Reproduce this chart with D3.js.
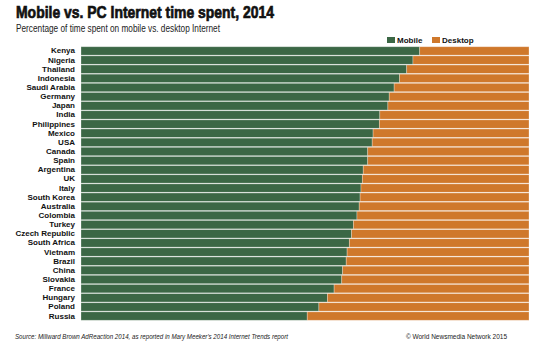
<!DOCTYPE html>
<html>
<head>
<meta charset="utf-8">
<script src="https://cdn.jsdelivr.net/npm/d3@7"></script>
<style>
  body { margin: 0; background: #fff; }
  svg { display: block; }
</style>
</head>
<body>
<div class="canvas"></div>
<script>
const countries = ["Kenya", "Nigeria", "Thailand", "Indonesia", "Saudi Arabia", "Germany",
  "Japan", "India", "Philippines", "Mexico", "USA", "Canada", "Spain", "Argentina", "UK",
  "Italy", "South Korea", "Australia", "Colombia", "Turkey", "Czech Republic", "South Africa",
  "Vietnam", "Brazil", "China", "Slovakia", "France", "Hungary", "Poland", "Russia"];
const mobile = [75.6, 74.1, 72.7, 71.1, 69.9, 68.8, 68.5, 66.7, 66.6, 65.2, 65.0, 64.0,
  64.0, 63.0, 62.8, 62.5, 62.3, 62.1, 61.6, 60.8, 60.4, 59.9, 59.4, 59.2, 58.4, 58.2,
  56.5, 55.0, 53.1, 50.5];
const desktop = mobile.map(d => 100 - d);
const seriesNames = ["Mobile", "Desktop"];
const colours = ["#3b6745", "#cf782b"];

const margin = {top: 46, right: 29, bottom: 30, left: 81};
const width = 558, height = 351;
const graphWidth = width - margin.left - margin.right;
const graphHeight = 321 - margin.top;

const svg = d3.select('.canvas')
  .append('svg')
  .attr('width', width)
  .attr('height', height);

// title + subtitle
svg.append('text')
  .attr('x', 16).attr('y', 17.5)
  .attr('font-family', '"Liberation Sans", Arial, sans-serif')
  .attr('font-weight', 900)
  .attr('font-size', 17)
  .attr('textLength', 258)
  .attr('lengthAdjust', 'spacingAndGlyphs')
  .attr('fill', '#111')
  .attr('stroke', '#111')
  .attr('stroke-width', 0.7)
  .text('Mobile vs. PC Internet time spent, 2014');

svg.append('text')
  .attr('x', 16).attr('y', 32)
  .attr('font-family', '"Liberation Sans Narrow", "Liberation Sans", sans-serif')
  .attr('font-size', 10)
  .attr('textLength', 204)
  .attr('lengthAdjust', 'spacingAndGlyphs')
  .attr('fill', '#222')
  .text('Percentage of time spent on mobile vs. desktop Internet');

const graph = svg.append('g')
  .attr('transform', `translate(${margin.left}, ${margin.top})`);

const x = d3.scaleLinear().domain([0, 100]).range([0, graphWidth]);
const y = d3.scaleBand().domain(countries).range([0, graphHeight]).padding(0.08);

const rows = countries.map((c, i) => ({country: c, Mobile: mobile[i], Desktop: desktop[i]}));
const stack = d3.stack().keys(seriesNames)(rows);
const colour = d3.scaleOrdinal().domain(seriesNames).range(colours);

graph.selectAll('g.series')
  .data(stack)
  .join('g')
  .attr('class', 'series')
  .attr('fill', d => colour(d.key))
  .selectAll('rect')
  .data(d => d)
  .join('rect')
  .attr('x', d => x(d[0]))
  .attr('y', d => y(d.data.country))
  .attr('width', d => x(d[1]) - x(d[0]))
  .attr('height', y.bandwidth())
  .attr('stroke', 'rgba(255,255,255,0.35)')
  .attr('stroke-width', 0.8);

// category labels
const yAxis = d3.axisLeft(y).tickSize(0).tickPadding(6);
const yAxisGroup = graph.append('g').call(yAxis);
yAxisGroup.select('.domain').remove();
yAxisGroup.selectAll('text')
  .attr('font-family', '"Liberation Sans Narrow", "Liberation Sans", sans-serif')
  .attr('font-weight', 'bold')
  .attr('font-size', 8)
  .attr('fill', '#111');

// legend
const legend = svg.append('g').attr('transform', 'translate(387, 37)');
const legendX = [0, 45];
seriesNames.forEach((s, i) => {
  const g = legend.append('g').attr('transform', `translate(${legendX[i]}, 0)`);
  g.append('rect').attr('width', 8).attr('height', 6).attr('fill', colours[i]);
  g.append('text')
    .attr('x', 10).attr('y', 6)
    .attr('font-family', '"Liberation Sans Narrow", "Liberation Sans", sans-serif')
    .attr('font-weight', 'bold')
    .attr('font-size', 8)
    .attr('fill', '#111')
    .text(s);
});

// footer
svg.append('text')
  .attr('x', 15).attr('y', 339)
  .attr('font-family', '"Liberation Sans", Arial, sans-serif')
  .attr('font-style', 'italic')
  .attr('font-size', 6.5)
  .attr('textLength', 273)
  .attr('lengthAdjust', 'spacingAndGlyphs')
  .attr('fill', '#222')
  .text("Source: Millward Brown AdReaction 2014, as reported in Mary Meeker's 2014 Internet Trends report");

svg.append('text')
  .attr('x', 507).attr('y', 339)
  .attr('text-anchor', 'end')
  .attr('font-family', '"Liberation Sans", Arial, sans-serif')
  .attr('font-size', 6.5)
  .attr('fill', '#222')
  .text('© World Newsmedia Network 2015');
</script>
</body>
</html>
